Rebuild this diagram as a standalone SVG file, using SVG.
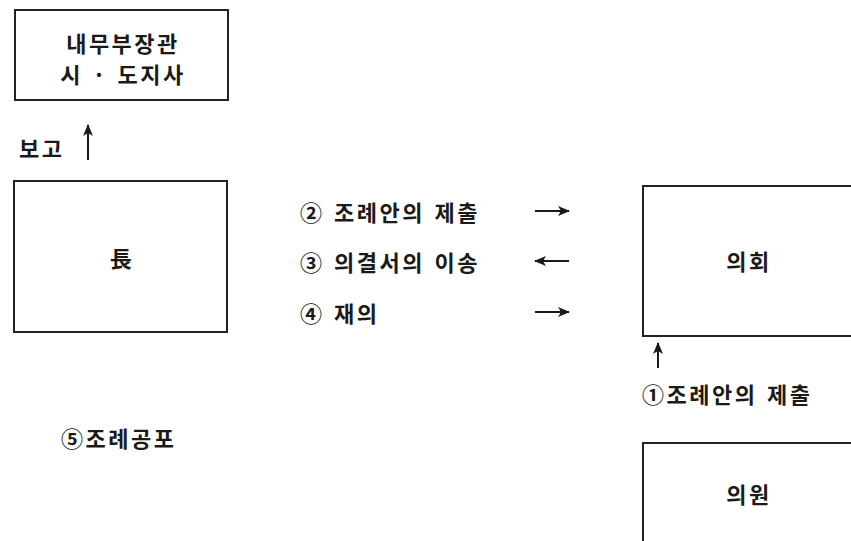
<svg xmlns="http://www.w3.org/2000/svg" width="851" height="541" viewBox="0 0 851 541">
<style>
.box{fill:#fff;stroke:#222;stroke-width:2}
.t{font-family:"Noto Sans CJK KR","Noto Sans",sans-serif;font-size:22px;font-weight:bold;fill:#1a1a1a;letter-spacing:2.5px;word-spacing:2px}
.c{text-anchor:middle}
.ln{stroke:#1a1a1a;stroke-width:2;fill:none}
</style>
<defs>
<marker id="ah" viewBox="0 0 12 12" refX="11" refY="6" markerWidth="12" markerHeight="12" markerUnits="userSpaceOnUse" orient="auto">
<path d="M0,1 L12,6 L0,11 L3,6 Z" fill="#1a1a1a"/>
</marker>
</defs>
<rect width="851" height="541" fill="#fff"/>
<g id="node-minister">
<rect class="box" x="15" y="10" width="213" height="90"/>
<text class="t c" x="123" y="52">내무부장관</text>
<text class="t c" x="123" y="83">시 · 도지사</text>
</g>
<g id="node-head">
<rect class="box" x="14" y="181" width="213" height="151"/>
<text class="t c" x="122" y="267">長</text>
</g>
<g id="node-council">
<rect class="box" x="643" y="186" width="220" height="150"/>
<text class="t c" x="749" y="270">의회</text>
</g>
<g id="node-member">
<rect class="box" x="643" y="443" width="220" height="110"/>
<text class="t c" x="749" y="503">의원</text>
</g>
<g id="connectors">
<line class="ln" x1="88" y1="160" x2="88" y2="125" marker-end="url(#ah)"/>
<line class="ln" x1="535" y1="211" x2="569" y2="211" marker-end="url(#ah)"/>
<line class="ln" x1="569" y1="261" x2="535" y2="261" marker-end="url(#ah)"/>
<line class="ln" x1="535" y1="312" x2="569" y2="312" marker-end="url(#ah)"/>
<line class="ln" x1="658" y1="368" x2="658" y2="343" marker-end="url(#ah)"/>
</g>
<g id="labels">
<text class="t" x="19" y="157">보고</text>
<text class="t" x="300" y="221">② 조례안의 제출</text>
<text class="t" x="300" y="271">③ 의결서의 이송</text>
<text class="t" x="300" y="322">④ 재의</text>
<text class="t" x="642" y="403">①조례안의 제출</text>
<text class="t" x="61" y="447">⑤조례공포</text>
</g>
</svg>
